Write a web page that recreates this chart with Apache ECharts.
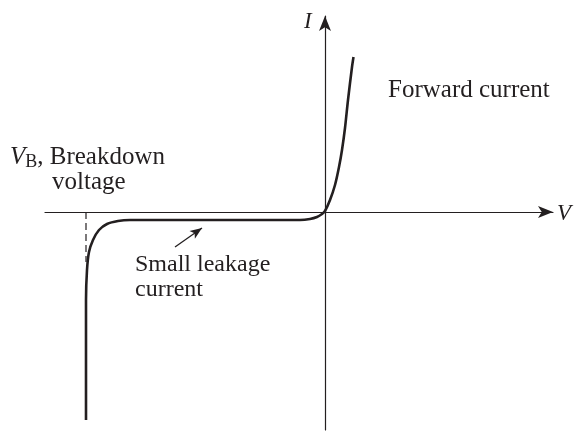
<!DOCTYPE html>
<html>
<head>
<meta charset="utf-8">
<script src="https://cdn.jsdelivr.net/npm/echarts@6/dist/echarts.min.js"></script>
<style>
  html, body { margin: 0; padding: 0; background: #fff; }
  #chart { width: 574px; height: 434px; }
</style>
</head>
<body>
<div id="chart"></div>
<script>
// diode I-V sketch, arbitrary units (no tick labels in the figure)
var curveV = [-23.9, -23.9, -23.9, -23.8, -23.6, -23.2, -22.6, -21.8, -20.7, -19.5, -12.5, -2.5, -1.5, -0.8, -0.3, 0, 0.5, 1.0, 1.4, 1.7, 2.0, 2.3, 2.7, 2.85];
var curveI = [-20.8, -12.0, -8.8, -5.8, -4.0, -2.8, -1.8, -1.2, -0.9, -0.8, -0.8, -0.8, -0.7, -0.5, -0.2, 0.1, 1.2, 2.7, 4.5, 6.2, 8.4, 11.2, 14.5, 15.5];
var breakdownV = -23.9;
var breakdownDash = [0, -5.0];
var leakArrow = [[-15.0, -3.5], [-12.3, -1.6]];

var serif = '"Liberation Serif", "DejaVu Serif", serif';
var ink = '#231f20';

var chart = echarts.init(document.getElementById('chart'));
chart.setOption({
    animation: false,
    grid: { left: 45, right: 21, top: 16, bottom: 4 },
    xAxis: {
        type: 'value',
        min: -28, max: 22.8,
        axisLine: { show: true, onZero: true, symbol: ['none', 'arrow'], symbolSize: [9, 15], lineStyle: { color: ink, width: 1.2 } },
        axisTick: { show: false },
        axisLabel: { show: false },
        splitLine: { show: false }
    },
    yAxis: {
        type: 'value',
        min: -21.8, max: 19.6,
        axisLine: { show: true, onZero: true, symbol: ['none', 'arrow'], symbolSize: [9, 15], lineStyle: { color: ink, width: 1.2 } },
        axisTick: { show: false },
        axisLabel: { show: false },
        splitLine: { show: false }
    },
    series: [
        {
            type: 'line',
            data: curveV.map(function (v, i) { return [v, curveI[i]]; }),
            smooth: 0.3,
            showSymbol: false,
            lineStyle: { color: ink, width: 2.6 },
            markLine: {
                silent: true,
                symbol: ['none', 'arrow'],
                symbolSize: [7, 12],
                label: { show: false },
                lineStyle: { color: ink, width: 1.3, type: 'solid' },
                data: [[{ coord: leakArrow[0] }, { coord: leakArrow[1] }]]
            }
        },
        {
            type: 'line',
            data: breakdownDash.map(function (y) { return [breakdownV, y]; }),
            showSymbol: false,
            lineStyle: { color: ink, width: 1.2, type: [7, 4] }
        }
    ],
    graphic: [
        { type: 'text', style: { text: 'I', x: 304, y: 22, fontSize: 23, fontStyle: 'italic', fontFamily: serif, fill: ink, verticalAlign: 'middle' } },
        { type: 'text', style: { text: 'V', x: 557, y: 214, fontSize: 23, fontStyle: 'italic', fontFamily: serif, fill: ink, verticalAlign: 'middle' } },
        { type: 'text', style: { text: 'Forward current', x: 388, y: 90, fontSize: 25, fontFamily: serif, fill: ink, verticalAlign: 'middle' } },
        {
            type: 'text',
            style: {
                text: '{v|V}{b|B}, Breakdown', x: 10, y: 157, fontSize: 25, fontFamily: serif, fill: ink, verticalAlign: 'middle',
                rich: {
                    v: { fontSize: 25, fontStyle: 'italic', fontFamily: serif, fill: ink },
                    b: { fontSize: 18, fontFamily: serif, fill: ink, padding: [10, 0, 0, 0] }
                }
            }
        },
        { type: 'text', style: { text: 'voltage', x: 52, y: 182, fontSize: 25, fontFamily: serif, fill: ink, verticalAlign: 'middle' } },
        { type: 'text', style: { text: 'Small leakage', x: 135, y: 265, fontSize: 24, fontFamily: serif, fill: ink, verticalAlign: 'middle' } },
        { type: 'text', style: { text: 'current', x: 135, y: 290, fontSize: 24, fontFamily: serif, fill: ink, verticalAlign: 'middle' } }
    ]
});
</script>
</body>
</html>
